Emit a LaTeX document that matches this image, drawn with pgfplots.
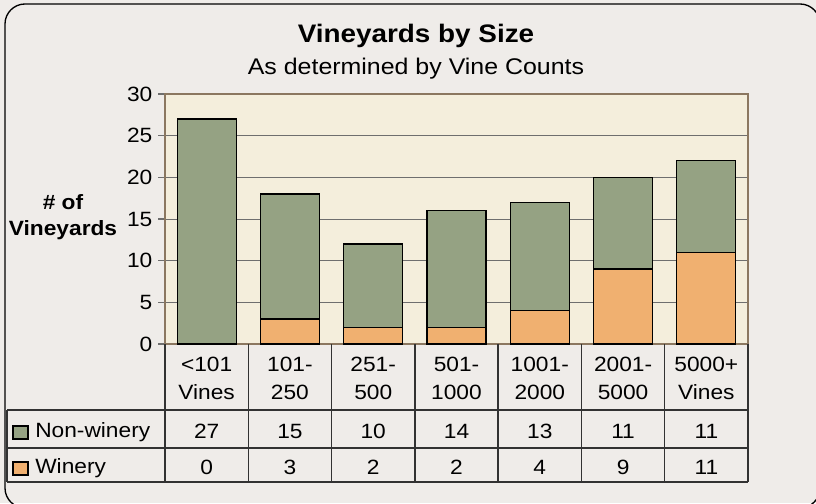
\documentclass[border=0pt]{standalone}
\usepackage{pgfplots}
\pgfplotsset{compat=1.18}
\usepackage{pgfplotstable}
\usepackage{fontspec}
\setmainfont{Liberation Sans}[FakeStretch=1.1]
\definecolor{bgc}{RGB}{239,236,233}
\definecolor{plotbg}{RGB}{244,238,220}
\definecolor{nwc}{RGB}{149,162,131}
\definecolor{wc}{RGB}{240,176,112}
\definecolor{borderc}{RGB}{139,119,96}
\definecolor{gridc}{RGB}{110,110,110}
\definecolor{tablec}{RGB}{50,50,50}
\pgfplotstableread{
cat nw w
0 27 0
1 15 3
2 10 2
3 14 2
4 13 4
5 11 9
6 11 11
}\datatable
\begin{document}
\begin{tikzpicture}
\useasboundingbox (0,0) rectangle (612pt,377.25pt);
\fill[bgc] (0,0) rectangle (612pt,377.25pt);
\begin{scope}[x=0.75pt,y=-0.75pt,yshift=377.25pt]
  \draw[line width=1pt, rounded corners=15pt] (5,4) rectangle (820,508);
  \node[font=\fontsize{19}{22}\selectfont\bfseries] at (416,36) {Vineyards by Size};
  \node[font=\fontsize{17}{20}\selectfont] at (416,69) {As determined by Vine Counts};
  \node[font=\fontsize{15.5}{19}\selectfont\bfseries, align=center] at (63,217) {\# of\\Vineyards};
\end{scope}
\begin{axis}[
  at={(123.75pt,119.25pt)}, anchor=south west, scale only axis,
  width=437.25pt, height=187.5pt,
  ybar stacked, bar width=44.25pt,
  xmin=-0.5, xmax=6.5, ymin=0, ymax=30,
  ytick={0,5,...,30}, xtick={0,...,6},
  xticklabels={{<101\\Vines},{101-\\250},{251-\\500},{501-\\1000},{1001-\\2000},{2001-\\5000},{5000+\\Vines}},
  xtick style={draw=none},
  ytick style={gridc, line width=0.8pt},
  tick align=outside, ytick pos=left, major tick length=5pt,
  ymajorgrids, grid style={color=gridc, line width=0.7pt},
  axis background/.style={fill=plotbg},
  axis line style={draw=none},
  clip=false,
  /pgf/number format/assume math mode=true,
  ticklabel style={font=\fontsize{15.5}{21}\selectfont},
  xticklabel style={align=center, yshift=-1pt},
  yticklabel style={xshift=-1pt},
]
\addplot[fill=wc, draw=black, line width=0.9pt] table[x=cat, y=w] {\datatable};
\addplot[fill=nwc, draw=black, line width=0.9pt] table[x=cat, y=nw] {\datatable};
\draw[borderc, line width=1pt] (rel axis cs:0,0) rectangle (rel axis cs:1,1);
\draw[black, line width=1pt] (rel axis cs:0,1) -- (rel axis cs:0,0) -- (rel axis cs:1,0);
\end{axis}
\begin{scope}[x=0.75pt,y=-0.75pt,yshift=377.25pt]
  \foreach \k in {0,...,7} {
    \draw[tablec, line width=1pt] ({165+83.2857*\k},344) -- ({165+83.2857*\k},482);
  }
  \foreach \yy in {410,448,482} {
    \draw[tablec, line width=1pt] (7,\yy) -- (748,\yy);
  }
  \draw[tablec, line width=1pt] (7,410) -- (7,482);
  \draw[black, line width=0.8pt, fill=nwc] (13,426) rectangle (28,439);
  \draw[black, line width=0.8pt, fill=wc] (13,462) rectangle (28,475);
  \node[anchor=west, font=\fontsize{15.5}{19}\selectfont, inner sep=0pt] at (35,432) {Non-winery};
  \node[anchor=west, font=\fontsize{15.5}{19}\selectfont, inner sep=0pt] at (35,468) {Winery};
  \foreach \i in {0,...,6} {
    \pgfplotstablegetelem{\i}{nw}\of\datatable
    \node[font=\fontsize{15.5}{19}\selectfont] at ({165+83.2857*(\i+0.5)},431) {\pgfplotsretval};
    \pgfplotstablegetelem{\i}{w}\of\datatable
    \node[font=\fontsize{15.5}{19}\selectfont] at ({165+83.2857*(\i+0.5)},467) {\pgfplotsretval};
  }
\end{scope}
\end{tikzpicture}
\end{document}
